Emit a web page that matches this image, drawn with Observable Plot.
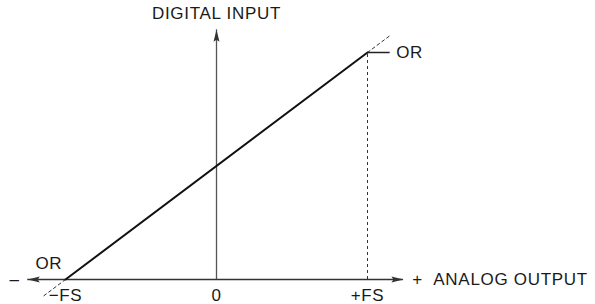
<!DOCTYPE html>
<html>
<head>
<meta charset="utf-8">
<script src="https://cdn.jsdelivr.net/npm/d3@7"></script>
<script src="https://cdn.jsdelivr.net/npm/@observablehq/plot@0.6"></script>
<style>
  html, body { margin: 0; padding: 0; background: #fff; }
  svg text { letter-spacing: 0.7px; }
</style>
</head>
<body>
<div id="chart"></div>
<script>
// Transfer function: analog output (−FS..+FS) vs digital input (0..full code)
const transferX = [-1, 1];
const transferY = [0, 1];
// Dashed continuation beyond the range ends
const extUpperX = [1, 1.15];
const extUpperY = [1, 1.075];
const extLowerX = [-1, -1.15];
const extLowerY = [0, -0.075];
// Axis extents
const hAxisX = [-1.25, 1.238];
const vAxisY = [0, 1.10];
// Tick labels on the analog axis
const tickValues = [-1, 0, 1];
const tickLabels = ["\u2212FS", "0", "+FS"];
// Centered annotations
const midText = ["DIGITAL INPUT", "\u2013", "+", "OR"];
const midX = [0, -1.338, 1.331, -1.11];
const midY = [1.17, 0, 0, 0.07];
// Left-aligned annotations
const startText = ["ANALOG OUTPUT", "OR"];
const startX = [1.436, 1.19];
const startY = [0, 1];

const transfer = transferX.map((x, i) => ({x, y: transferY[i]}));
const extUpper = extUpperX.map((x, i) => ({x, y: extUpperY[i]}));
const extLower = extLowerX.map((x, i) => ({x, y: extLowerY[i]}));
const ticks = tickValues.map((v, i) => ({x: v, y: -0.07, text: tickLabels[i]}));
const midLabels = midText.map((t, i) => ({text: t, x: midX[i], y: midY[i]}));
const startLabels = startText.map((t, i) => ({text: t, x: startX[i], y: startY[i]}));
const arrows = [
  {x: hAxisX[1], y: 0, rot: 90},
  {x: hAxisX[0], y: 0, rot: -90},
  {x: 0, y: vAxisY[1], rot: 0}
];

const arrowHead = {
  draw(context) {
    context.moveTo(0, 0);
    context.lineTo(3, 12);
    context.lineTo(0, 10);
    context.lineTo(-3, 12);
    context.closePath();
  }
};

const ink = "#1a1a1a";
const font = "'Liberation Sans', Arial, Helvetica, sans-serif";

const chart = Plot.plot({
  width: 595,
  height: 304,
  margin: 0,
  style: {fontFamily: font, background: "#fff"},
  x: {domain: [-1, 1], range: [65, 367], axis: null},
  y: {domain: [0, 1], range: [279, 52], axis: null},
  marks: [
    Plot.ruleY([0], {x1: hAxisX[0], x2: hAxisX[1], stroke: "#333", strokeWidth: 1.3}),
    Plot.ruleX([0], {y1: vAxisY[0], y2: vAxisY[1], stroke: "#555", strokeWidth: 1.3}),
    Plot.ruleX([1], {y1: 0, y2: 1, stroke: "#333", strokeWidth: 1, strokeDasharray: "3,3"}),
    Plot.ruleY([1], {x1: 1, x2: 1.15, stroke: "#222", strokeWidth: 1.5}),
    Plot.line(extUpper, {x: "x", y: "y", stroke: "#333", strokeWidth: 1, strokeDasharray: "3,3"}),
    Plot.line(extLower, {x: "x", y: "y", stroke: "#333", strokeWidth: 1, strokeDasharray: "3,3"}),
    Plot.line(transfer, {x: "x", y: "y", stroke: "#111", strokeWidth: 2}),
    Plot.dot(arrows, {x: "x", y: "y", rotate: "rot", symbol: arrowHead, fill: "#333", stroke: "none"}),
    Plot.text(ticks, {x: "x", y: "y", text: "text", fontSize: 17, fill: ink, fontFamily: font}),
    Plot.text(midLabels, {x: "x", y: "y", text: "text", textAnchor: "middle", fontSize: 17, fill: ink, fontFamily: font}),
    Plot.text(startLabels, {x: "x", y: "y", text: "text", textAnchor: "start", fontSize: 17, fill: ink, fontFamily: font})
  ]
});
document.getElementById("chart").appendChild(chart);
</script>
</body>
</html>
